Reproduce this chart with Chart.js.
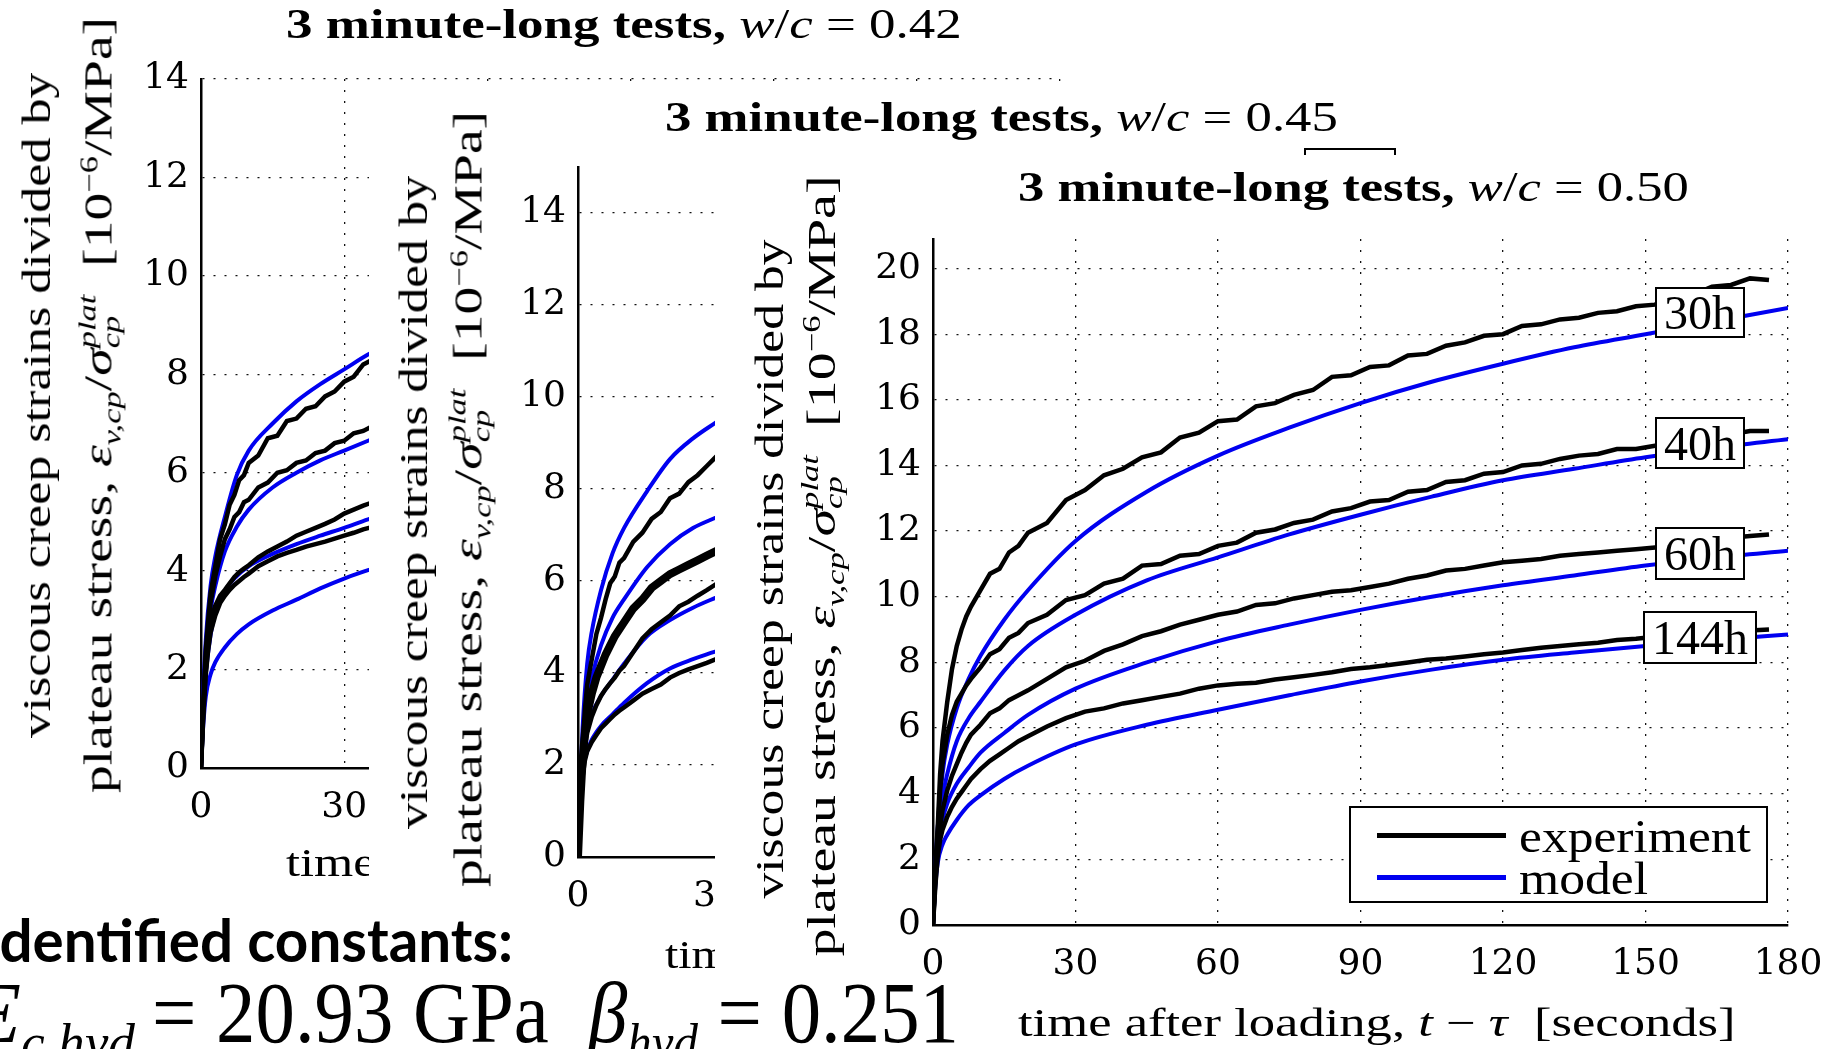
<!DOCTYPE html>
<html>
<head>
<meta charset="utf-8">
<script src="https://cdn.jsdelivr.net/npm/chart.js@4.4.1/dist/chart.umd.min.js"></script>
<style>
html, body { margin: 0; padding: 0; background: #fff; }
body { width: 1829px; height: 1049px; position: relative; overflow: hidden; }
.pane { position: absolute; background: #fff; overflow: hidden; }
.pane canvas { position: absolute; left: 0; top: 0; }
.txt { position: absolute; white-space: nowrap; font-family: "Liberation Serif", "DejaVu Serif", serif; color: #000; line-height: 1; transform-origin: 0 0; }
.rot { transform-origin: 50% 50%; }
.ttl { font-size: 42px; }
.lab { font-size: 40px; }
.ss { display: inline-block; vertical-align: -0.3em; font-size: 0.62em; line-height: 0.95; font-style: italic; }
.ss span { display: block; }
sub, sup { font-size: 0.62em; line-height: 0; }
.tag { position: absolute; border: 2px solid #000; background: #fff; font-family: "Liberation Serif", serif; font-size: 48px; display: flex; align-items: center; justify-content: center; box-sizing: border-box; }
.legend { position: absolute; border: 2px solid #000; background: #fff; box-sizing: border-box; }
.legend .ln { position: absolute; height: 5px; }
</style>
</head>
<body>

<div class="pane" id="p1" style="left:0px; top:0px; width:1100px; height:1049px; z-index:1;">
  <canvas id="cv1" width="1180" height="1049" style="width:1180px;height:1049px;"></canvas>
  <div class="txt ttl" data-w="676" style="left:286px; top:3px;"><b>3 minute-long tests,</b> <i>w</i>/<i>c</i> = 0.42</div>
  <div class="txt lab rot" data-w="665" style="left:37px; top:405px;">viscous creep strains divided by</div>
  <div class="txt lab rot" data-w="776" style="left:99px; top:405px;">plateau stress, <i>ε</i><sub><i>v,cp</i></sub>/<i>σ</i><span class="ss"><span>plat</span><span>cp</span></span> &nbsp;[10<sup>−6</sup>/MPa]</div>
  <div class="txt lab" data-w="688" style="left:286px; top:843px;">time after loading, <i>t</i> − <i>τ</i> &nbsp;[seconds]</div>
</div>

<div class="pane" id="p2" style="left:369px; top:90px; width:1100px; height:959px; z-index:2;">
  <canvas id="cv2" width="1180" height="959" style="width:1180px;height:959px;"></canvas>
  <div class="txt ttl" data-w="673" style="left:296px; top:6px;"><b>3 minute-long tests,</b> <i>w</i>/<i>c</i> = 0.45</div>
  <div class="txt lab rot" data-w="653" style="left:45px; top:412px;">viscous creep strains divided by</div>
  <div class="txt lab rot" data-w="776" style="left:100px; top:409px;">plateau stress, <i>ε</i><sub><i>v,cp</i></sub>/<i>σ</i><span class="ss"><span>plat</span><span>cp</span></span> &nbsp;[10<sup>−6</sup>/MPa]</div>
  <div class="txt lab" data-w="654" style="left:296px; top:845px;">time after loading, <i>t</i> − <i>τ</i> &nbsp;[seconds]</div>
  <div class="tag" style="left:935px; top:58px; width:92px; height:52px;">30h</div>
</div>

<div class="pane" id="p3" style="left:715px; top:155px; width:1114px; height:894px; z-index:3;">
  <canvas id="cv3" width="1194" height="894" style="width:1194px;height:894px;"></canvas>
  <div class="txt ttl" data-w="671" style="left:303px; top:11px;"><b>3 minute-long tests,</b> <i>w</i>/<i>c</i> = 0.50</div>
  <div class="txt lab rot" data-w="659" style="left:55px; top:414px;">viscous creep strains divided by</div>
  <div class="txt lab rot" data-w="781" style="left:107px; top:411px;">plateau stress, <i>ε</i><sub><i>v,cp</i></sub>/<i>σ</i><span class="ss"><span>plat</span><span>cp</span></span> &nbsp;[10<sup>−6</sup>/MPa]</div>
  <div class="txt lab" data-w="718" style="left:303px; top:848px;">time after loading, <i>t</i> − <i>τ</i> &nbsp;[seconds]</div>
  <div class="tag" style="left:940px; top:132px; width:90px; height:51px;">30h</div>
  <div class="tag" style="left:940px; top:262px; width:90px; height:52px;">40h</div>
  <div class="tag" style="left:940px; top:372px; width:90px; height:53px;">60h</div>
  <div class="tag" style="left:928px; top:456px; width:114px; height:53px;">144h</div>
  <div class="legend" style="left:634px; top:651px; width:419px; height:97px;">
    <div class="ln" style="left:26px; top:25px; width:129px; background:#000;"></div>
    <div class="ln" style="left:26px; top:67px; width:129px; background:#0000f0;"></div>
    <div class="txt" data-w="232" style="left:168px; top:6px; font-size:46px;">experiment</div>
    <div class="txt" data-w="129" style="left:168px; top:48px; font-size:46px;">model</div>
  </div>
</div>

<div class="txt" data-w="530" style="left:-17px; top:909px; z-index:10; font-family:Lato, sans-serif; font-weight:700; font-size:60px;">Identified constants:</div>
<div class="txt" style="right:1694px; top:970px; z-index:10; font-size:86px;"><i>E</i><sub><i>c,hyd</i></sub></div>
<div class="txt" data-w="807" style="left:152px; top:970px; z-index:10; font-size:86px;">= 20.93 GPa &nbsp;<i>β</i><sub><i>hyd</i></sub> = 0.251</div>

<script>
// shared axes
var xTicks = [0, 30, 60, 90, 120, 150, 180];
var yTicks14 = [0, 2, 4, 6, 8, 10, 12, 14];
var yTicks20 = [0, 2, 4, 6, 8, 10, 12, 14, 16, 18, 20];

// w/c = 0.42 (only the first ~35 s are visible)
var tExp1 = [0, 0.5, 1, 1.5, 2, 3, 4, 5, 6, 7, 8, 9, 10, 12, 14, 16, 18, 20, 22, 24, 26, 28, 30, 32, 34, 36, 38, 40];
var exp30h_1 = [0, 1.4, 2.4, 3.0, 3.55, 4.1, 4.65, 4.95, 5.35, 5.55, 5.85, 5.95, 6.2, 6.35, 6.7, 6.75, 7.05, 7.1, 7.3, 7.35, 7.55, 7.65, 7.85, 7.95, 8.2, 8.3, 8.45, 8.55];
var exp40h_1 = [0, 1.3, 2.2, 2.8, 3.35, 3.9, 4.3, 4.65, 4.85, 5.1, 5.2, 5.4, 5.45, 5.7, 5.8, 6.0, 6.05, 6.2, 6.25, 6.4, 6.45, 6.6, 6.65, 6.8, 6.85, 6.95, 7.05, 7.1];
var exp60h_1 = [0, 1.2, 2.0, 2.6, 3.0, 3.3, 3.5, 3.62, 3.75, 3.88, 3.98, 4.05, 4.12, 4.28, 4.4, 4.5, 4.6, 4.72, 4.8, 4.88, 4.96, 5.05, 5.17, 5.25, 5.33, 5.4, 5.48, 5.55];
var exp144h_1 = [0, 1.1, 1.9, 2.4, 2.75, 3.1, 3.35, 3.5, 3.62, 3.72, 3.8, 3.88, 3.95, 4.1, 4.2, 4.3, 4.37, 4.43, 4.5, 4.55, 4.6, 4.66, 4.72, 4.78, 4.85, 4.9, 4.95, 5.0];
var tMod1 = [0, 0.5, 1, 2, 3, 5, 7.5, 10, 15, 20, 25, 30, 35, 40];
var mod30h_1 = [0, 1.6, 2.6, 3.7, 4.3, 5.1, 5.95, 6.45, 7.0, 7.45, 7.8, 8.1, 8.4, 8.65];
var mod40h_1 = [0, 1.4, 2.3, 3.2, 3.7, 4.4, 4.9, 5.25, 5.7, 6.0, 6.25, 6.45, 6.65, 6.85];
var mod60h_1 = [0, 1.2, 1.9, 2.7, 3.15, 3.6, 3.9, 4.1, 4.35, 4.55, 4.72, 4.88, 5.05, 5.2];
var mod144h_1 = [0, 0.9, 1.45, 1.9, 2.15, 2.45, 2.72, 2.92, 3.2, 3.42, 3.65, 3.85, 4.02, 4.15];

// w/c = 0.45 (only the first ~30 s are visible)
var tExp2 = [0, 0.5, 1, 1.5, 2, 3, 4, 5, 6, 7, 8, 9, 10, 12, 14, 16, 18, 20, 22, 24, 26, 28, 30, 32, 34];
var exp30h_2 = [0, 1.3, 2.4, 3.2, 3.75, 4.3, 4.85, 5.2, 5.6, 5.95, 6.1, 6.4, 6.5, 6.85, 7.05, 7.35, 7.5, 7.8, 7.9, 8.15, 8.3, 8.5, 8.7, 8.85, 9.0];
var exp40h_2 = [0, 1.2, 2.1, 2.7, 3.1, 3.55, 3.9, 4.15, 4.4, 4.6, 4.8, 4.95, 5.1, 5.4, 5.6, 5.85, 6.0, 6.15, 6.25, 6.35, 6.45, 6.55, 6.65, 6.75, 6.85];
var exp60h_2 = [0, 1.1, 1.9, 2.4, 2.7, 3.05, 3.3, 3.5, 3.65, 3.78, 3.9, 4.05, 4.15, 4.45, 4.75, 4.95, 5.1, 5.25, 5.45, 5.55, 5.68, 5.8, 5.93, 6.02, 6.1];
var exp144h_2 = [0, 1.0, 1.75, 2.1, 2.3, 2.5, 2.65, 2.8, 2.9, 3.0, 3.1, 3.18, 3.25, 3.4, 3.55, 3.65, 3.75, 3.9, 4.0, 4.08, 4.15, 4.22, 4.3, 4.36, 4.42];
var tMod2 = [0, 0.5, 1, 2, 3, 5, 7.5, 10, 15, 20, 25, 30, 35];
var mod30h_2 = [0, 1.6, 2.8, 4.2, 4.9, 5.8, 6.6, 7.15, 7.95, 8.65, 9.1, 9.45, 9.8];
var mod40h_2 = [0, 1.4, 2.4, 3.4, 3.9, 4.6, 5.2, 5.6, 6.3, 6.8, 7.15, 7.38, 7.6];
var mod60h_2 = [0, 1.3, 2.1, 2.75, 3.1, 3.5, 3.85, 4.2, 4.8, 5.15, 5.42, 5.64, 5.85];
var mod144h_2 = [0, 1.2, 1.85, 2.3, 2.55, 2.85, 3.1, 3.35, 3.78, 4.1, 4.3, 4.47, 4.6];

// w/c = 0.50
var tExp3 = [0, 0.5, 1, 1.5, 2, 3, 4, 5, 6, 7, 8, 10, 12, 14, 16, 18, 20, 24, 28, 32, 36, 40, 44, 48, 52, 56, 60, 64, 68, 72, 76, 80, 84, 88, 92, 96, 100, 104, 108, 112, 116, 120, 124, 128, 132, 136, 140, 144, 148, 152, 156, 160, 164, 168, 172, 176];
var exp30h_3 = [0, 1.8, 3.0, 4.6, 5.6, 6.8, 7.8, 8.5, 9.0, 9.4, 9.7, 10.2, 10.7, 10.85, 11.35, 11.55, 11.95, 12.25, 12.95, 13.25, 13.7, 13.9, 14.25, 14.4, 14.85, 15.0, 15.35, 15.4, 15.8, 15.9, 16.15, 16.3, 16.7, 16.75, 17.0, 17.05, 17.35, 17.4, 17.65, 17.75, 17.95, 18.0, 18.25, 18.3, 18.45, 18.5, 18.65, 18.7, 18.85, 18.9, 19.15, 19.2, 19.45, 19.5, 19.7, 19.65];
var exp40h_3 = [0, 1.6, 2.8, 4.1, 4.9, 5.8, 6.4, 6.8, 7.05, 7.3, 7.5, 7.85, 8.25, 8.4, 8.75, 8.9, 9.2, 9.45, 9.9, 10.05, 10.4, 10.55, 10.95, 11.0, 11.25, 11.3, 11.55, 11.65, 11.95, 12.05, 12.25, 12.35, 12.6, 12.7, 12.9, 12.95, 13.2, 13.25, 13.5, 13.55, 13.75, 13.8, 14.0, 14.05, 14.2, 14.3, 14.35, 14.5, 14.5, 14.6, 14.65, 14.75, 14.85, 14.95, 15.05, 15.05];
var exp60h_3 = [0, 1.4, 2.4, 3.0, 3.5, 4.1, 4.55, 4.9, 5.25, 5.55, 5.8, 6.1, 6.45, 6.6, 6.85, 7.0, 7.15, 7.5, 7.85, 8.05, 8.35, 8.55, 8.8, 8.95, 9.15, 9.3, 9.45, 9.55, 9.75, 9.8, 9.95, 10.05, 10.15, 10.2, 10.3, 10.4, 10.55, 10.65, 10.8, 10.85, 10.95, 11.05, 11.1, 11.15, 11.25, 11.3, 11.35, 11.4, 11.45, 11.5, 11.55, 11.6, 11.7, 11.8, 11.85, 11.9];
var exp144h_3 = [0, 1.2, 2.1, 2.6, 2.9, 3.3, 3.6, 3.85, 4.05, 4.25, 4.45, 4.75, 5.0, 5.2, 5.4, 5.6, 5.75, 6.05, 6.3, 6.5, 6.6, 6.75, 6.85, 6.95, 7.05, 7.2, 7.3, 7.35, 7.38, 7.48, 7.55, 7.62, 7.7, 7.8, 7.85, 7.92, 8.0, 8.08, 8.12, 8.18, 8.25, 8.3, 8.38, 8.45, 8.5, 8.55, 8.6, 8.68, 8.72, 8.78, 8.82, 8.85, 8.9, 8.93, 8.97, 9.0];
var tMod3 = [0, 0.5, 1, 2, 3, 5, 7.5, 10, 15, 20, 30, 45, 60, 75, 90, 105, 120, 135, 150, 165, 180];
var mod30h_3 = [0, 1.8, 3.0, 4.6, 5.5, 6.6, 7.5, 8.2, 9.3, 10.2, 11.7, 13.2, 14.3, 15.15, 15.9, 16.55, 17.1, 17.6, 18.0, 18.4, 18.8];
var mod40h_3 = [0, 1.6, 2.7, 3.9, 4.6, 5.6, 6.3, 6.8, 7.75, 8.5, 9.45, 10.5, 11.2, 11.9, 12.5, 13.05, 13.55, 13.9, 14.25, 14.55, 14.8];
var mod60h_3 = [0, 1.4, 2.3, 3.2, 3.7, 4.3, 4.8, 5.25, 5.85, 6.4, 7.2, 8.0, 8.65, 9.15, 9.6, 10.0, 10.35, 10.65, 10.95, 11.2, 11.4];
var mod144h_3 = [0, 1.2, 1.9, 2.45, 2.75, 3.2, 3.65, 3.95, 4.45, 4.85, 5.5, 6.1, 6.56, 7.0, 7.42, 7.78, 8.08, 8.3, 8.5, 8.68, 8.85];

var ages = ["30h", "40h", "60h", "144h"];

function toXY(ts, vs) {
  return ts.map(function (t, i) { return { x: t, y: vs[i] }; });
}

function makeChart(id, cfg) {
  var datasets = [];
  cfg.exp.forEach(function (vals, i) {
    datasets.push({
      label: ages[i] + " experiment",
      data: toXY(cfg.tExp, vals),
      borderColor: "#000",
      borderWidth: cfg.expWidth[i],
      pointRadius: 0,
      tension: 0,
    });
  });
  cfg.mod.forEach(function (vals, i) {
    datasets.push({
      label: ages[i] + " model",
      data: toXY(cfg.tMod, vals),
      borderColor: "#0000f0",
      borderWidth: 4,
      pointRadius: 0,
      cubicInterpolationMode: "monotone",
    });
  });
  var tickFont = { family: "DejaVu Serif", size: 36 };
  return new Chart(document.getElementById(id), {
    type: "line",
    data: { datasets: datasets },
    options: {
      responsive: false,
      animation: false,
      layout: { padding: cfg.pad },
      plugins: { legend: { display: false }, tooltip: { enabled: false } },
      scales: {
        x: {
          type: "linear",
          min: 0,
          max: 180,
          afterBuildTicks: function (s) { s.ticks = xTicks.map(function (v) { return { value: v }; }); },
          afterFit: function (s) { s.height = 60; },
          ticks: { font: tickFont, color: "#000", padding: 18, maxRotation: 0, autoSkip: false },
          grid: { drawTicks: false, color: "#111", lineWidth: 1.3 },
          border: { display: true, color: "#000", width: 2.5, dash: [2, 9] },
        },
        y: {
          type: "linear",
          min: 0,
          max: cfg.yMax,
          afterBuildTicks: function (s) { s.ticks = cfg.yTicks.map(function (v) { return { value: v }; }); },
          afterFit: function (s) { s.width = 70; },
          ticks: { font: tickFont, color: "#000", padding: 12, autoSkip: false },
          grid: { drawTicks: false, color: "#111", lineWidth: 1.3 },
          border: { display: true, color: "#000", width: 2.5, dash: [2, 9] },
        },
      },
    },
  });
}

makeChart("cv1", {
  tExp: tExp1, exp: [exp30h_1, exp40h_1, exp60h_1, exp144h_1], expWidth: [4.5, 4.5, 4.5, 4.5],
  tMod: tMod1, mod: [mod30h_1, mod40h_1, mod60h_1, mod144h_1],
  yMax: 14, yTicks: yTicks14,
  pad: { left: 131, right: 120, top: 79, bottom: 221 },
});
makeChart("cv2", {
  tExp: tExp2, exp: [exp30h_2, exp40h_2, exp60h_2, exp144h_2], expWidth: [4.5, 8, 4.5, 4.5],
  tMod: tMod2, mod: [mod30h_2, mod40h_2, mod60h_2, mod144h_2],
  yMax: 15, yTicks: yTicks14,
  pad: { left: 139, right: 143, top: 77, bottom: 132 },
});
makeChart("cv3", {
  tExp: tExp3, exp: [exp30h_3, exp40h_3, exp60h_3, exp144h_3], expWidth: [4.5, 4.5, 4.5, 4.5],
  tMod: tMod3, mod: [mod30h_3, mod40h_3, mod60h_3, mod144h_3],
  yMax: 20.9, yTicks: yTicks20,
  pad: { left: 148, right: 121, top: 84, bottom: 64 },
});

// squeeze texts to the widths they have in the figure
function fitAll() {
  document.querySelectorAll("[data-w]").forEach(function (el) {
    var k = parseFloat(el.dataset.w) / el.offsetWidth;
    if (el.classList.contains("rot")) {
      el.style.transform = "translate(-50%,-50%) rotate(-90deg) scaleX(" + k + ")";
    } else {
      el.style.transform = "scaleX(" + k + ")";
    }
  });
}
fitAll();
if (document.fonts) document.fonts.ready.then(fitAll);
</script>
</body>
</html>
